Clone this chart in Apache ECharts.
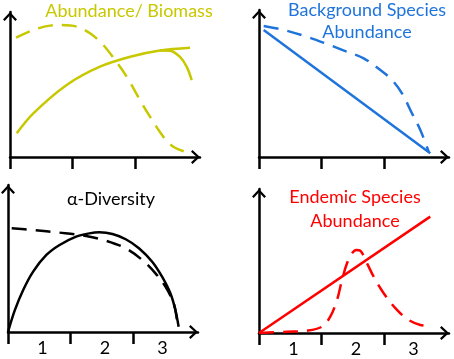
<!DOCTYPE html>
<html>
<head>
<meta charset="utf-8">
<script src="https://cdn.jsdelivr.net/npm/echarts@6/dist/echarts.min.js"></script>
<style>
  html, body { margin: 0; padding: 0; background: #fff; }
  #chart { width: 454px; height: 359px; }
</style>
</head>
<body>
<div id="chart"></div>
<script>
// panel titles
const titles = ['Abundance/ Biomass', 'Background Species\nAbundance', 'α-Diversity', 'Endemic Species\nAbundance'];
const tickLabels = ['1', '2', '3'];

// top left: abundance / biomass
const bioSolidX = [0.107, 0.373, 0.907, 1.44, 1.973, 2.4, 2.88];
const bioSolidY = [0.163, 0.301, 0.497, 0.623, 0.697, 0.735, 0.754];
const bioBranchX = [2.4, 2.56, 2.72, 2.83, 2.907];
const bioBranchY = [0.735, 0.733, 0.69, 0.62, 0.53];
const bioDashX = [0.096, 0.373, 0.64, 0.827, 1.067, 1.28, 1.493, 1.68, 1.867, 2.08, 2.24, 2.453, 2.613, 2.8];
const bioDashY = [0.823, 0.876, 0.906, 0.91, 0.899, 0.853, 0.772, 0.669, 0.554, 0.393, 0.278, 0.14, 0.071, 0.037];

// top right: background species
const bgSolidX = [0.075, 2.74];
const bgSolidY = [0.864, 0.025];
const bgDashX = [0.075, 0.395, 0.768, 1.088, 1.408, 1.675, 1.941, 2.128, 2.288, 2.448, 2.581, 2.715];
const bgDashY = [0.891, 0.864, 0.818, 0.769, 0.716, 0.671, 0.592, 0.524, 0.433, 0.297, 0.184, 0.036];

// bottom left: alpha diversity
const divSolidX = [0, 0.111, 0.243, 0.402, 0.614, 0.825, 1.09, 1.302, 1.46, 1.671, 1.884, 2.095, 2.307, 2.465, 2.598, 2.678, 2.73];
const divSolidY = [0, 0.15, 0.286, 0.411, 0.524, 0.592, 0.649, 0.671, 0.678, 0.667, 0.631, 0.57, 0.478, 0.376, 0.263, 0.15, 0.036];
const divDashX = [0.059, 0.402, 0.825, 1.249, 1.567, 1.884, 2.148, 2.36, 2.519, 2.651, 2.703];
const divDashY = [0.705, 0.694, 0.676, 0.653, 0.621, 0.569, 0.49, 0.399, 0.308, 0.195, 0.082];

// bottom right: endemic species
const endSolidX = [0, 2.74];
const endSolidY = [0, 0.808];
const endDashX = [0, 0.448, 0.768, 1.008, 1.14, 1.248, 1.328, 1.408, 1.488, 1.557, 1.621, 1.728, 1.835, 1.995, 2.208, 2.395, 2.581, 2.715];
const endDashY = [0, 0.009, 0.016, 0.044, 0.113, 0.229, 0.368, 0.484, 0.553, 0.576, 0.571, 0.484, 0.391, 0.276, 0.16, 0.09, 0.056, 0.051];

const YELLOW = '#c8c800';
const BLUE = '#1f74dc';
const RED = '#ff0000';
const FONT = 'Lato';

const zip = (xs, ys) => xs.map((x, i) => [x, ys[i]]);

const chevron = 'path://M7,0 L14,7.5 L12.3,9 L7,3.2 L1.7,9 L0,7.5 Z';

const grids = [
  { left: 10, top: 12, width: 190, height: 145 },
  { left: 259, top: 10, width: 190, height: 147 },
  { left: 8, top: 185, width: 190, height: 147 },
  { left: 259, top: 189, width: 190, height: 144 }
];

const axisLine = {
  lineStyle: { color: '#000', width: 2.5 },
  symbol: ['none', chevron],
  symbolSize: [14, 9],
  symbolOffset: [0, -4.5]
};

const xAxes = grids.map((g, i) => ({
  type: 'value',
  gridIndex: i,
  min: 0,
  max: 3.04,
  axisLine: axisLine,
  splitLine: { show: false },
  axisTick: { show: true, length: 12, customValues: [0, 1, 2], lineStyle: { color: '#000', width: 2.5 } },
  axisLabel: {
    show: i >= 2,
    customValues: [0.55, 1.55, 2.47],
    formatter: v => tickLabels[Math.floor(v)],
    margin: 7,
    color: '#000',
    fontFamily: FONT,
    fontSize: 18
  }
}));

const yAxes = grids.map((g, i) => ({
  type: 'value',
  gridIndex: i,
  min: 0,
  max: 1,
  axisLine: axisLine,
  splitLine: { show: false },
  axisTick: { show: false },
  axisLabel: { show: false }
}));

function line(idx, data, color, dashed) {
  return {
    type: 'line',
    xAxisIndex: idx,
    yAxisIndex: idx,
    data: data,
    smooth: 0.35,
    showSymbol: false,
    silent: true,
    lineStyle: { color: color, width: 2.5, type: dashed ? [15, 9] : 'solid' }
  };
}

const titleStyle = (color, lh) => ({ color: color, fontFamily: FONT, fontSize: 18, fontWeight: 'normal', lineHeight: lh });

const chart = echarts.init(document.getElementById('chart'), null, { renderer: 'canvas' });
chart.setOption({
  animation: false,
  backgroundColor: '#fff',
  title: [
    { text: titles[0], left: 129, top: 0, textAlign: 'center', padding: 0, textStyle: titleStyle(YELLOW, 23) },
    { text: titles[1], left: 367, top: -1, textAlign: 'center', padding: 0, textStyle: titleStyle(BLUE, 22) },
    { text: titles[2], left: 111, top: 188, textAlign: 'center', padding: 0, textStyle: titleStyle('#000', 23) },
    { text: titles[3], left: 355, top: 185, textAlign: 'center', padding: 0, textStyle: titleStyle(RED, 24) }
  ],
  grid: grids,
  xAxis: xAxes,
  yAxis: yAxes,
  series: [
    line(0, zip(bioSolidX, bioSolidY), YELLOW, false),
    line(0, zip(bioBranchX, bioBranchY), YELLOW, false),
    line(0, zip(bioDashX, bioDashY), YELLOW, true),
    line(1, zip(bgSolidX, bgSolidY), BLUE, false),
    line(1, zip(bgDashX, bgDashY), BLUE, true),
    line(2, zip(divSolidX, divSolidY), '#000', false),
    line(2, zip(divDashX, divDashY), '#000', true),
    line(3, zip(endSolidX, endSolidY), RED, false),
    line(3, zip(endDashX, endDashY), RED, true)
  ]
});
</script>
</body>
</html>
